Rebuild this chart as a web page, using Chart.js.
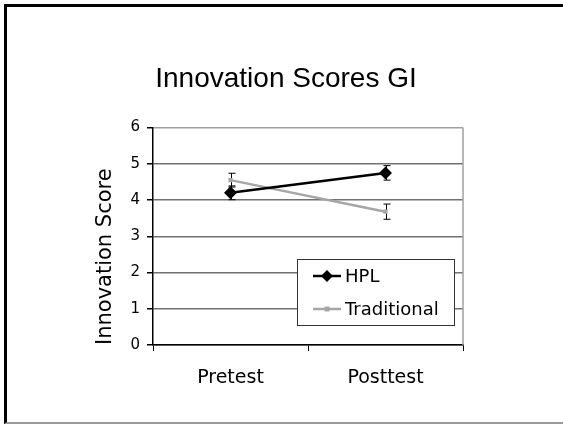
<!DOCTYPE html>
<html>
<head>
<meta charset="utf-8">
<script src="https://cdn.jsdelivr.net/npm/chart.js@4"></script>
<style>
  body { margin: 0; background: #fff; }
  #wrap { position: relative; width: 563px; height: 424px; }
  #frame {
    position: absolute; left: 4px; top: 4px; right: 0; height: 420px;
    box-sizing: border-box;
    border-top: 3px solid #000; border-left: 3px solid #000; border-bottom: 2px solid #9a9a9a;
    pointer-events: none;
  }
</style>
</head>
<body>
<div id="wrap">
  <canvas id="lineChart" width="563" height="424"></canvas>
  <div id="frame"></div>
</div>
<script>
"use strict";
const categories = ["Pretest", "Posttest"];
const hplScores = [4.2, 4.75];
const hplErrors = [0.19, 0.2];
const traditionalScores = [4.55, 3.68];
const traditionalErrors = [0.19, 0.21];
const yTicks = [0, 1, 2, 3, 4, 5, 6];

const axisFont = "'DejaVu Sans', Verdana, sans-serif";

// error bars drawn under the markers
const errorBarPlugin = {
  id: "errorBars",
  beforeDatasetsDraw(chart) {
    const { ctx, scales } = chart;
    ctx.save();
    ctx.strokeStyle = "#000";
    ctx.lineWidth = 1;
    chart.data.datasets.forEach((ds, i) => {
      const meta = chart.getDatasetMeta(i);
      meta.data.forEach((pt, j) => {
        const err = ds.errors[j];
        const yTop = scales.y.getPixelForValue(ds.data[j] + err);
        const yBot = scales.y.getPixelForValue(ds.data[j] - err);
        const x = Math.round(pt.x) + 0.5;
        ctx.beginPath();
        ctx.moveTo(x, yTop);
        ctx.lineTo(x, yBot);
        ctx.moveTo(x - 3, yTop);
        ctx.lineTo(x + 4, yTop);
        ctx.moveTo(x - 3, yBot);
        ctx.lineTo(x + 4, yBot);
        ctx.stroke();
      });
    });
    ctx.restore();
  },
};

// right border of the plot area
const plotBorderPlugin = {
  id: "plotBorder",
  afterLayout(chart) {
    // nudge the title a little to the right, like the slide
    chart.titleBlock.left += 24;
  },
  beforeDatasetsDraw(chart) {
    const { ctx, chartArea } = chart;
    ctx.save();
    ctx.strokeStyle = "#a0a0a0";
    ctx.lineWidth = 1.5;
    ctx.beginPath();
    ctx.moveTo(chartArea.right, chartArea.top);
    ctx.lineTo(chartArea.right, chartArea.bottom);
    ctx.stroke();
    ctx.restore();
  },
};

// boxed legend inside the plot
const boxLegendPlugin = {
  id: "boxLegend",
  afterDraw(chart) {
    const { ctx } = chart;
    const box = { x: 297, y: 259, w: 157, h: 66 };
    ctx.save();
    ctx.fillStyle = "#fff";
    ctx.fillRect(box.x, box.y, box.w, box.h);
    ctx.strokeStyle = "#333";
    ctx.lineWidth = 1;
    ctx.strokeRect(box.x + 0.5, box.y + 0.5, box.w, box.h);
    chart.data.datasets.forEach((ds, i) => {
      const y = 276 + i * 33;
      ctx.strokeStyle = ds.borderColor;
      ctx.lineWidth = ds.borderWidth;
      ctx.beginPath();
      ctx.moveTo(313, y);
      ctx.lineTo(341, y);
      ctx.stroke();
      ctx.fillStyle = ds.pointBackgroundColor;
      ctx.beginPath();
      if (ds.pointStyle === "rectRot") {
        ctx.moveTo(327, y - 6);
        ctx.lineTo(333, y);
        ctx.lineTo(327, y + 6);
        ctx.lineTo(321, y);
      } else {
        ctx.rect(324.5, y - 2.5, 5, 5);
      }
      ctx.closePath();
      ctx.fill();
      ctx.fillStyle = "#000";
      ctx.font = "18px " + axisFont;
      ctx.textBaseline = "middle";
      ctx.textAlign = "left";
      ctx.fillText(ds.label, 345, y + 1);
    });
    ctx.restore();
  },
};

const ctx = document.getElementById("lineChart");
const lineChart = new Chart(ctx, {
  type: "line",
  data: {
    labels: categories,
    datasets: [
      {
        label: "HPL",
        data: hplScores,
        errors: hplErrors,
        borderColor: "#000",
        backgroundColor: "#000",
        pointBackgroundColor: "#000",
        pointBorderColor: "#000",
        borderWidth: 2.5,
        pointStyle: "rectRot",
        pointRadius: 6.5,
        pointBorderWidth: 0,
      },
      {
        label: "Traditional",
        data: traditionalScores,
        errors: traditionalErrors,
        borderColor: "#a6a6a6",
        backgroundColor: "#a6a6a6",
        pointBackgroundColor: "#a6a6a6",
        pointBorderColor: "#a6a6a6",
        borderWidth: 2.5,
        pointStyle: "rect",
        pointRadius: 3,
        pointBorderWidth: 0,
      },
    ],
  },
  options: {
    responsive: false,
    animation: false,
    layout: {
      padding: { top: 62, left: 85, right: 100, bottom: 29 },
    },
    plugins: {
      legend: { display: false },
      tooltip: { enabled: false },
      title: {
        display: true,
        text: "Innovation Scores GI",
        color: "#000",
        font: { family: "'Liberation Sans', Arial, sans-serif", size: 28, weight: "normal" },
        padding: { top: 0, bottom: 32 },
      },
    },
    scales: {
      x: {
        type: "category",
        offset: true,
        grid: {
          offset: true,
          drawOnChartArea: false,
          drawTicks: true,
          tickLength: 6,
          tickColor: "#000",
        },
        border: { color: "#000", width: 1.5 },
        ticks: {
          color: "#000",
          padding: 16,
          font: { family: axisFont, size: 19 },
        },
        afterFit(scale) {
          scale.height = 50;
        },
      },
      y: {
        min: 0,
        max: 6,
        afterBuildTicks(scale) {
          scale.ticks = yTicks.map((v) => ({ value: v }));
        },
        grid: {
          color: (c) => (c.tick && c.tick.value === 6 ? "#a0a0a0" : "#707070"),
          lineWidth: 1.5,
          tickLength: 6,
          tickColor: "#000",
        },
        border: { color: "#000", width: 1.5 },
        ticks: {
          color: "#000",
          padding: 7,
          font: { family: axisFont, size: 15 },
        },
        title: {
          display: true,
          text: "Innovation Score",
          align: "start",
          color: "#000",
          font: { family: axisFont, size: 21 },
          padding: { top: 8, bottom: 0 },
        },
        afterFit(scale) {
          scale.width = 68;
        },
      },
    },
  },
  plugins: [errorBarPlugin, plotBorderPlugin, boxLegendPlugin],
});
</script>
</body>
</html>
